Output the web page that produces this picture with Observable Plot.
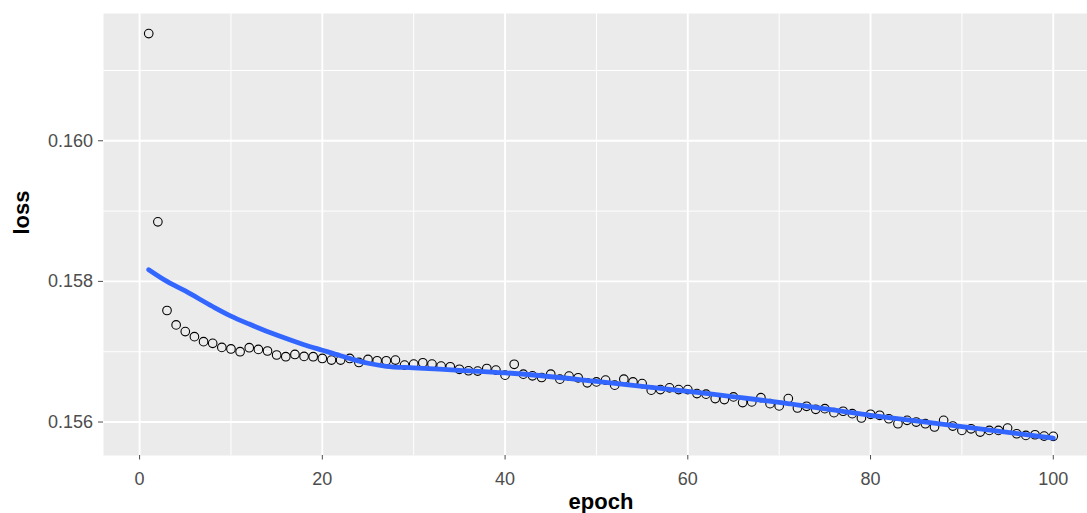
<!DOCTYPE html>
<html>
<head>
<meta charset="utf-8">
<script src="https://cdn.jsdelivr.net/npm/d3@7"></script>
<script src="https://cdn.jsdelivr.net/npm/@observablehq/plot@0.6"></script>
<style>
  html, body { margin: 0; padding: 0; background: #ffffff; overflow: hidden; }
  #chart svg { display: block; }
</style>
</head>
<body>
<div id="chart"></div>
<script>
const epoch = [
  1,2,3,4,5,6,7,8,9,10,11,12,13,14,15,16,17,18,19,20,
  21,22,23,24,25,26,27,28,29,30,31,32,33,34,35,36,37,38,39,40,
  41,42,43,44,45,46,47,48,49,50,51,52,53,54,55,56,57,58,59,60,
  61,62,63,64,65,66,67,68,69,70,71,72,73,74,75,76,77,78,79,80,
  81,82,83,84,85,86,87,88,89,90,91,92,93,94,95,96,97,98,99,100
];
const loss = [
  0.161524,0.158847,0.157586,0.157381,0.157286,0.157214,0.157143,0.157119,0.157061,0.157039,
  0.157000,0.157057,0.157033,0.157010,0.156953,0.156929,0.156961,0.156933,0.156929,0.156904,
  0.156881,0.156881,0.156904,0.156847,0.156890,0.156871,0.156871,0.156881,0.156810,0.156824,
  0.156843,0.156824,0.156796,0.156786,0.156750,0.156729,0.156724,0.156761,0.156739,0.156667,
  0.156821,0.156681,0.156657,0.156633,0.156681,0.156610,0.156653,0.156629,0.156557,0.156571,
  0.156596,0.156524,0.156610,0.156571,0.156547,0.156453,0.156461,0.156486,0.156461,0.156461,
  0.156404,0.156396,0.156333,0.156319,0.156357,0.156276,0.156286,0.156347,0.156261,0.156229,
  0.156333,0.156200,0.156224,0.156181,0.156190,0.156133,0.156153,0.156119,0.156057,0.156110,
  0.156096,0.156047,0.155976,0.156024,0.156000,0.155976,0.155929,0.156024,0.155943,0.155881,
  0.155904,0.155857,0.155881,0.155881,0.155914,0.155833,0.155810,0.155819,0.155800,0.155796
];
// smoothed (loess) curve
const smoothEpoch = [1,3,5,8,10,12,15,18,20,22,25,27,30,35,40,50,60,70,80,90,100];
const smoothLoss = [
  0.158167,0.158000,0.157864,0.157643,0.157507,0.157393,0.157236,0.157100,0.157021,0.156943,
  0.156836,0.156793,0.156771,0.156736,0.156700,0.156579,0.156436,0.156279,0.156096,0.155936,0.155771
];
const xTicks = [0,20,40,60,80,100];
const xMinor = [10,30,50,70,90];
const yTicks = [0.156,0.158,0.160];
const yMinor = [0.157,0.159,0.161];
const xLabel = "epoch";
const yLabel = "loss";

const points = epoch.map((e, i) => ({epoch: e, loss: loss[i]}));
const smooth = smoothEpoch.map((e, i) => ({epoch: e, loss: smoothLoss[i]}));

const chart = Plot.plot({
  width: 1087,
  height: 513,
  marginLeft: 103,
  marginRight: -11,
  marginTop: 13,
  marginBottom: 58,
  style: {background: "#ffffff", fontFamily: "'Liberation Sans', Arial, sans-serif", overflow: "hidden"},
  x: {domain: [-3.95, 104.95]},
  y: {domain: [0.155524, 0.161810]},
  marks: [
    Plot.frame({fill: "#EBEBEB", stroke: null}),
    Plot.gridX(xMinor, {stroke: "#ffffff", strokeOpacity: 1, strokeWidth: 1.0}),
    Plot.gridY(yMinor, {stroke: "#ffffff", strokeOpacity: 1, strokeWidth: 1.0}),
    Plot.gridX(xTicks, {stroke: "#ffffff", strokeOpacity: 1, strokeWidth: 1.9}),
    Plot.gridY(yTicks, {stroke: "#ffffff", strokeOpacity: 1, strokeWidth: 1.9}),
    Plot.axisX(xTicks, {anchor: "bottom", tickSize: 4.5, tickPadding: 12, fontSize: 18, color: "#4D4D4D", label: null, tickFormat: d3.format("d")}),
    Plot.axisY(yTicks, {anchor: "left", tickSize: 5, tickPadding: 5.5, fontSize: 18, color: "#4D4D4D", label: null, tickFormat: d3.format(".3f")}),
    Plot.dot(points, {x: "epoch", y: "loss", r: 4.3, stroke: "#000000", strokeWidth: 1.1, fill: "none"}),
    Plot.line(smooth, {x: "epoch", y: "loss", stroke: "#3366FF", strokeWidth: 4.8, curve: "monotone-x"}),
    Plot.text([xLabel], {frameAnchor: "bottom", dy: 53.6, lineAnchor: "bottom", text: d => d, fontSize: 22, fontWeight: "bold", fill: "#000000"}),
    Plot.text([yLabel], {frameAnchor: "left", dx: -82, rotate: -90, lineAnchor: "middle", text: d => d, fontSize: 22, fontWeight: "bold", fill: "#000000"})
  ]
});
document.getElementById("chart").appendChild(chart);
</script>
</body>
</html>
